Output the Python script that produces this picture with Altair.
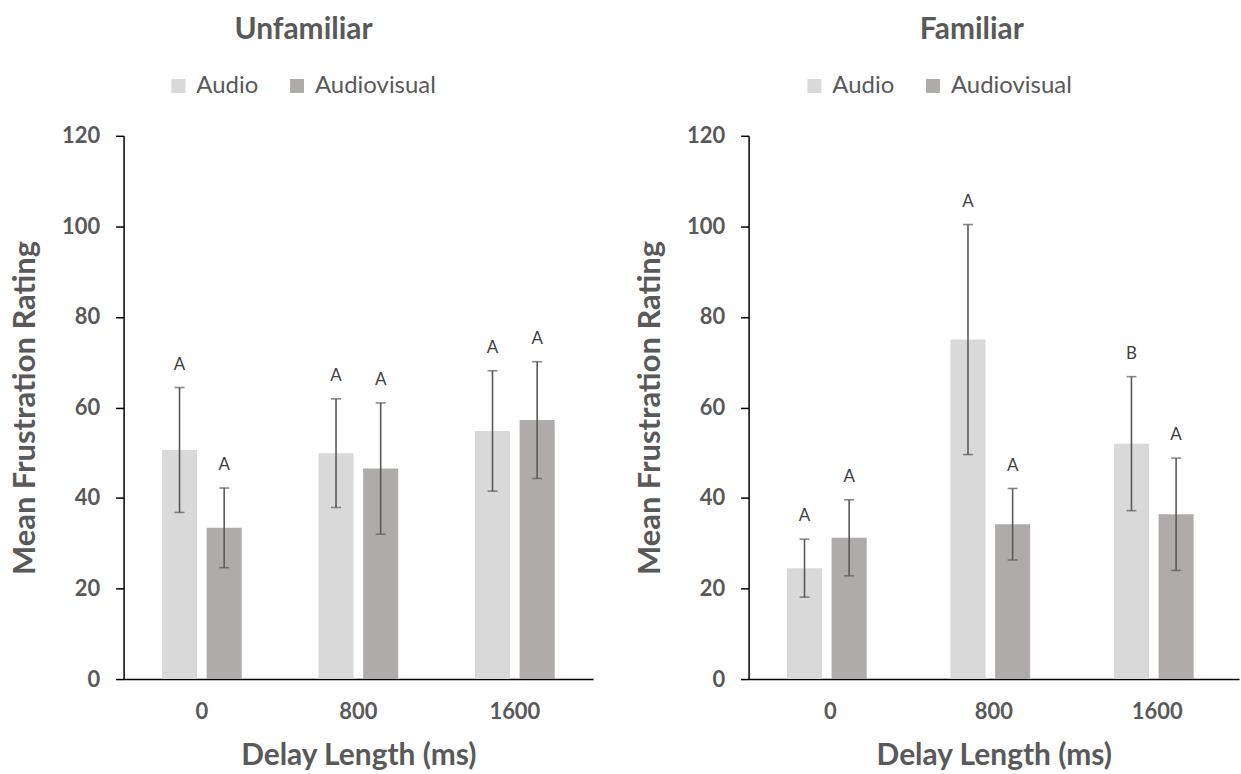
import altair as alt
import pandas as pd

# Delay conditions and presentation modes
delays = ["0", "800", "1600"]
conditions = ["Audio", "Audiovisual"]

# Unfamiliar speakers: mean frustration rating and error half-width per delay
unfamiliar_audio = [50.6, 49.9, 54.8]
unfamiliar_audio_err = [13.8, 12.0, 13.3]
unfamiliar_av = [33.4, 46.5, 57.2]
unfamiliar_av_err = [8.8, 14.5, 12.9]
unfamiliar_audio_letters = ["A", "A", "A"]
unfamiliar_av_letters = ["A", "A", "A"]

# Familiar speakers
familiar_audio = [24.5, 75.0, 52.0]
familiar_audio_err = [6.4, 25.4, 14.8]
familiar_av = [31.2, 34.2, 36.4]
familiar_av_err = [8.4, 7.9, 12.4]
familiar_audio_letters = ["A", "A", "B"]
familiar_av_letters = ["A", "A", "A"]

FONT = "Lato"
GREY_TEXT = "#595959"
COLORS = ["#D9D9D9", "#AFABAB"]


def build_frame(audio, audio_err, av, av_err, audio_letters, av_letters):
    rows = []
    for i, d in enumerate(delays):
        rows.append(dict(delay=d, condition="Audio", mean=audio[i],
                         lo=audio[i] - audio_err[i], hi=audio[i] + audio_err[i],
                         letter=audio_letters[i]))
        rows.append(dict(delay=d, condition="Audiovisual", mean=av[i],
                         lo=av[i] - av_err[i], hi=av[i] + av_err[i],
                         letter=av_letters[i]))
    return pd.DataFrame(rows)


def panel(df, title, width, legend_x, title_dx):
    x = alt.X("delay:N", sort=delays,
              scale=alt.Scale(paddingInner=0, paddingOuter=0),
              axis=alt.Axis(title="Delay Length (ms)", labelAngle=0, ticks=False,
                            labelFont=FONT, labelFontWeight="bold", labelFontSize=22,
                            labelColor=GREY_TEXT, labelPadding=23,
                            titleFont=FONT, titleFontWeight="bold", titleFontSize=30,
                            titleColor=GREY_TEXT, titlePadding=18,
                            domainColor="#000000", domainWidth=1.5))
    xo = alt.XOffset("condition:N", sort=conditions,
                     scale=alt.Scale(paddingInner=0.215, paddingOuter=0.86))
    y_scale = alt.Scale(domain=[0, 120], nice=False)

    bars = alt.Chart(df).mark_bar().encode(
        x=x, xOffset=xo,
        y=alt.Y("mean:Q", scale=y_scale,
                axis=alt.Axis(title="Mean Frustration Rating", values=list(range(0, 121, 20)),
                              grid=False, tickSize=8, tickColor="#000000", tickWidth=1.5,
                              domainColor="#000000", domainWidth=1.5,
                              labelFont=FONT, labelFontWeight="bold", labelFontSize=22,
                              labelColor=GREY_TEXT, labelPadding=16,
                              titleFont=FONT, titleFontWeight="bold", titleFontSize=31,
                              titleColor=GREY_TEXT, titlePadding=20)),
        color=alt.Color("condition:N", sort=conditions,
                        scale=alt.Scale(domain=conditions, range=COLORS),
                        legend=alt.Legend(title=None, orient="none", direction="horizontal",
                                          legendX=legend_x, legendY=-62,
                                          symbolType="square", symbolSize=196,
                                          symbolStrokeWidth=0, labelFont=FONT,
                                          labelFontSize=24, labelColor=GREY_TEXT,
                                          labelOffset=6, columnPadding=26)),
    )

    whiskers = alt.Chart(df).mark_rule(color=GREY_TEXT, strokeWidth=1.6).encode(
        x=x, xOffset=xo, y=alt.Y("lo:Q", scale=y_scale), y2="hi:Q")
    cap_hi = alt.Chart(df).mark_tick(color=GREY_TEXT, size=10, thickness=1.6).encode(
        x=x, xOffset=xo, y=alt.Y("hi:Q", scale=y_scale))
    cap_lo = alt.Chart(df).mark_tick(color=GREY_TEXT, size=10, thickness=1.6).encode(
        x=x, xOffset=xo, y=alt.Y("lo:Q", scale=y_scale))
    letters = alt.Chart(df).mark_text(font=FONT, fontSize=17, color="#404040",
                                      dy=-23).encode(
        x=x, xOffset=xo, y=alt.Y("hi:Q", scale=y_scale), text="letter:N")

    return alt.layer(bars, whiskers, cap_hi, cap_lo, letters).properties(
        width=width, height=545,
        title=alt.TitleParams(title, font=FONT, fontSize=30, fontWeight="bold",
                              color=GREY_TEXT, anchor="middle", offset=29, dx=title_dx),
    )


unfamiliar_df = build_frame(unfamiliar_audio, unfamiliar_audio_err, unfamiliar_av,
                            unfamiliar_av_err, unfamiliar_audio_letters, unfamiliar_av_letters)
familiar_df = build_frame(familiar_audio, familiar_audio_err, familiar_av,
                          familiar_av_err, familiar_audio_letters, familiar_av_letters)

left = panel(unfamiliar_df, "Unfamiliar", 471, 43, -55)
right = panel(familiar_df, "Familiar", 492, 54, -22)

chart = alt.hconcat(left, right, spacing=156, bounds="flush").resolve_scale(
    color="independent").resolve_legend(color="independent").configure_view(
    stroke=None).properties(
    padding={"left": 9, "top": 14, "right": 2, "bottom": 5},
    background="white",
)

chart.save("out.html", embed_options={"renderer": "svg", "actions": False})
